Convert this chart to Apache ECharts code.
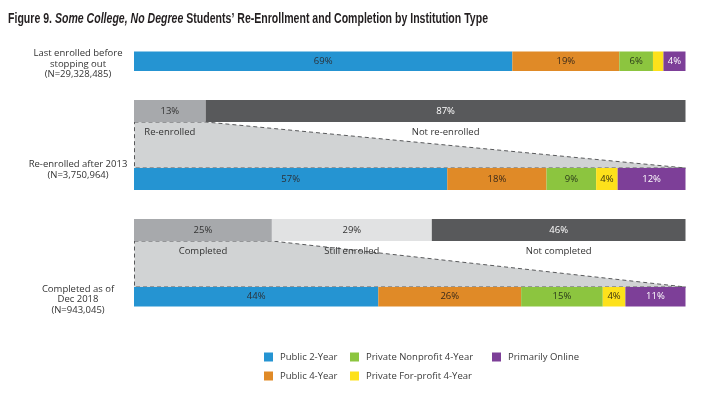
<!DOCTYPE html>
<html>
<head>
<meta charset="utf-8">
<script src="https://cdn.jsdelivr.net/npm/echarts@6/dist/echarts.min.js"></script>
<style>
html,body{margin:0;padding:0;background:#fff;}
#chart{width:707px;height:393px;}
</style>
</head>
<body>
<div id="chart"></div>
<script>
// ---- data ----
const institutionTypes = ['Public 2-Year', 'Public 4-Year', 'Private Nonprofit 4-Year', 'Private For-profit 4-Year', 'Primarily Online'];
const lastEnrolledShares = [68.6, 19.4, 6.1, 1.9, 4.0];
const reEnrolledShares = [56.8, 18.0, 9.0, 3.9, 12.3];
const completedShares = [44.3, 25.9, 14.8, 4.1, 10.9];
const reEnrollStatus = ['Re-enrolled', 'Not re-enrolled'];
const reEnrollStatusShares = [13, 87];
const completionStatus = ['Completed', 'Still enrolled', 'Not completed'];
const completionStatusShares = [25, 29, 46];
const rowLabels = ['Last enrolled before\nstopping out\n(N=29,328,485)', 'Re-enrolled after 2013\n(N=3,750,964)', 'Completed as of\nDec 2018\n(N=943,045)'];
const titleParts = ['Figure 9. ', 'Some College, No Degree', ' Students’ Re-Enrollment and Completion by Institution Type'];

// ---- layout / style ----
const FONT = 'Open Sans';
const TITLE_FONT = 'Liberation Sans';
const typeColors = ['#2594d2', '#e08a27', '#8cc53f', '#fde11b', '#7d3f98'];
const typeLabelColors = ['#2b3138', '#3a2a1a', '#2a3a1a', '#3a3410', '#ffffff'];
const toneColors = ['#a7a9ac', '#e1e2e3', '#58595b'];
const toneLabelColors = ['#333333', '#333333', '#ffffff'];
const SLOTS = 15;
const slotLast = 0, slotReStatus = 3, slotRe = 7, slotCompStatus = 10, slotComp = 14;
const reTone = [0, 2];
const compTone = [0, 1, 2];
const BAR_H = 22;

const slotNames = Array.from({length: SLOTS}, (_, i) => 's' + i);
function blank() { return Array(SLOTS).fill('-'); }

const series = [];
institutionTypes.forEach((name, i) => {
  const d = blank();
  d[slotLast] = lastEnrolledShares[i];
  d[slotRe] = reEnrolledShares[i];
  d[slotComp] = completedShares[i];
  series.push({
    name: name, type: 'bar', stack: 'total', barWidth: BAR_H, data: d,
    itemStyle: {color: typeColors[i]},
    label: {show: true, position: 'inside', fontFamily: FONT, fontSize: 9.5, color: typeLabelColors[i],
      formatter: p => (p.value < 3 ? '' : Math.round(p.value) + '%')},
    emphasis: {disabled: true}, z: 3
  });
});
toneColors.forEach((c, t) => {
  const d = blank();
  d[slotReStatus] = 0; d[slotCompStatus] = 0;
  reTone.forEach((tone, k) => { if (tone === t) d[slotReStatus] = reEnrollStatusShares[k]; });
  compTone.forEach((tone, k) => { if (tone === t) d[slotCompStatus] = completionStatusShares[k]; });
  series.push({
    name: 'tone' + t, type: 'bar', stack: 'total', barWidth: BAR_H, data: d,
    itemStyle: {color: c},
    label: {show: true, position: 'inside', fontFamily: FONT, fontSize: 9.5, color: toneLabelColors[t],
      formatter: p => (p.value > 0 ? Math.round(p.value) + '%' : '')},
    emphasis: {disabled: true}, z: 3
  });
});

// funnel polygons
series.push({
  type: 'custom', z: 1, silent: true,
  data: [[reEnrollStatusShares[0], slotReStatus, slotRe], [completionStatusShares[0], slotCompStatus, slotComp]],
  encode: {x: 0, y: 1},
  renderItem: function (params, api) {
    const pct = api.value(0);
    const a = api.coord([0, api.value(1)]);
    const b = api.coord([pct, api.value(1)]);
    const c = api.coord([100, api.value(2)]);
    const top = a[1] + BAR_H / 2, bot = c[1] - BAR_H / 2;
    return {
      type: 'polygon',
      shape: {points: [[a[0] + 0.5, top], [b[0], top], [c[0], bot], [a[0] + 0.5, bot]]},
      style: {fill: '#d1d3d4', stroke: '#58595b', lineWidth: 1, lineDash: [4, 3]}
    };
  }
});

// status names below the status bars
const statusCenters = [], statusNames = [];
function addCenters(names, shares, slot) {
  let acc = 0;
  shares.forEach((v, k) => { statusCenters.push([acc + v / 2, slot]); statusNames.push(names[k]); acc += v; });
}
addCenters(reEnrollStatus, reEnrollStatusShares, slotReStatus);
addCenters(completionStatus, completionStatusShares, slotCompStatus);
series.push({
  type: 'custom', z: 5, silent: true,
  data: statusCenters, encode: {x: 0, y: 1},
  renderItem: function (params, api) {
    const p = api.coord([api.value(0), api.value(1)]);
    return {
      type: 'text',
      style: {text: statusNames[params.dataIndex], x: p[0], y: p[1] + BAR_H / 2 + 10.5,
        align: 'center', verticalAlign: 'middle', fontFamily: FONT, fontSize: 9.5, fill: '#333333'}
    };
  }
});

const legendPos = [[264, 352], [264, 371], [350, 352], [350, 371], [492, 352]];
const legends = institutionTypes.map((name, i) => ({
  data: [name], left: legendPos[i][0], top: legendPos[i][1], padding: 0,
  itemWidth: 9, itemHeight: 9, icon: 'rect', selectedMode: false,
  textStyle: {fontFamily: FONT, fontSize: 9.5, color: '#3a3a3a', padding: [0, 0, 0, 2]}
}));

const labelCenters = [64, 170, 299.5];
const graphics = rowLabels.map((t, i) => ({
  type: 'text', x: 78, y: labelCenters[i],
  style: {text: t, align: 'center', verticalAlign: 'middle', textAlign: 'center', textVerticalAlign: 'middle',
    fontFamily: FONT, fontSize: 9.5, lineHeight: 10.5, fill: '#333333'}
}));

// title: condensed look via horizontal scaling to the target width
const TITLE_SIZE = 14.5, TITLE_WIDTH = 480;
const cvs = document.createElement('canvas').getContext('2d');
let tw = 0;
titleParts.forEach((s, k) => {
  cvs.font = (k === 1 ? 'italic ' : '') + 'bold ' + TITLE_SIZE + 'px "' + TITLE_FONT + '"';
  tw += cvs.measureText(s).width;
});
graphics.push({
  type: 'text', x: 8, y: 19, scaleX: TITLE_WIDTH / tw,
  style: {
    text: '{b|' + titleParts[0] + '}{i|' + titleParts[1] + '}{b|' + titleParts[2] + '}',
    verticalAlign: 'middle', textVerticalAlign: 'middle',
    rich: {
      b: {fontFamily: TITLE_FONT, fontWeight: 'bold', fontSize: TITLE_SIZE, fill: '#231f20', color: '#231f20'},
      i: {fontFamily: TITLE_FONT, fontWeight: 'bold', fontStyle: 'italic', fontSize: TITLE_SIZE, fill: '#231f20', color: '#231f20'}
    }
  }
});

const chart = echarts.init(document.getElementById('chart'), null, {renderer: 'canvas'});
chart.setOption({
  animation: false,
  grid: {left: 134, right: 21.5, top: 51.5, height: 255},
  xAxis: {type: 'value', min: 0, max: 100, show: false},
  yAxis: {type: 'category', data: slotNames, inverse: true, show: false},
  legend: legends,
  graphic: graphics,
  series: series
});
</script>
</body>
</html>
